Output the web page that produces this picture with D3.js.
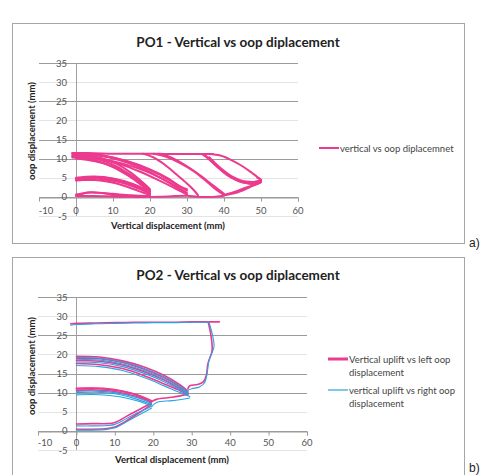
<!DOCTYPE html>
<html>
<head>
<meta charset="utf-8">
<script src="https://cdn.jsdelivr.net/npm/d3@7"></script>
<style>
  html, body { margin: 0; padding: 0; background: #fff; }
  svg { display: block; }
</style>
</head>
<body>
<svg id="chart" width="486" height="475"></svg>
<script>
// ---------------- DATA ----------------
const xTicks = [-10, 0, 10, 20, 30, 40, 50, 60];
const yTicks = [-5, 0, 5, 10, 15, 20, 25, 30, 35];
const yTickLabels = ["-5", "0", "5", "10", "15", "20", "25", "30", "35"];

// PO1 : vertical vs oop displacement (each entry = one traced segment [x, y])
const po1Cycle20 = [
  [[0,0.3],[2,0.9],[4,1.2],[7,1.0],[10,0.6],[14,0.3],[17,0.1],[20,0.0],[15,0.0],[10,0.1],[5,0.2],[0,0.2]],
  [[0,0.6],[3,1.1],[6,1.1],[10,0.8],[15,0.4],[20,0.2]],
  [[0,4.4],[3,4.9],[6,5.0],[9,4.7],[12,4.0],[15,3.0],[18,1.8],[20,0.8]],
  [[20,0.5],[17,1.5],[14,2.6],[11,3.5],[8,4.1],[5,4.4],[2,4.4],[0,4.3]],
  [[0,4.7],[4,5.2],[8,5.0],[12,4.3],[16,2.9],[20,1.2]],
  [[20,1.0],[16,2.5],[12,3.8],[8,4.5],[4,4.8],[0,4.6]],
  [[0,5.0],[5,5.3],[10,4.8],[15,3.5],[19,1.8],[20,1.4]],
  [[-1,10.8],[2,10.6],[6,9.8],[10,8.4],[14,6.2],[17,4.2],[20,1.6]],
  [[20,1.2],[17,3.6],[14,5.6],[10,7.8],[6,9.3],[2,10.1],[-1,10.3]],
  [[-1,11.2],[3,10.9],[7,10.1],[11,8.6],[15,6.2],[18,3.8],[20,2.0]],
  [[0,10.0],[4,9.5],[8,8.6],[12,7.0],[16,4.6],[19,2.2],[20,1.4]]
];
const po1Cycle30 = [
  [[-1,11.4],[4,11.1],[9,10.3],[14,8.9],[19,6.9],[23,4.9],[27,2.8],[30,1.0]],
  [[30,0.6],[26,2.6],[22,4.5],[17,6.7],[12,8.5],[7,9.7],[2,10.4],[-1,10.6]],
  [[0,11.5],[6,11.1],[12,9.8],[17,8.2],[22,6.1],[26,3.9],[30,1.6]],
  [[29,1.4],[25,3.8],[21,5.8],[16,7.7],[10,9.3],[5,10.2],[0,10.7]],
  [[0,11.3],[8,10.6],[14,9.3],[20,7.2],[25,4.8],[28,2.8],[30,2.0]],
  [[20,0.0],[25,0.1],[30,0.3],[33,0.0],[37,0.0],[40,0.3]]
];
const po1Cycle40 = [
  [[-1,11.5],[5,11.4],[10,11.3],[15,11.3],[20,11.3],[25,11.2],[30,11.2],[35,11.2],[37,11.2]],
  [[18,11.3],[21,10.3],[24,8.4],[27,6.0],[30,3.5],[32,1.6],[33,0.4]],
  [[21,11.3],[24,10.6],[28,8.9],[32,6.6],[35,4.3],[38,1.8],[40,0.5]],
  [[23,11.2],[26,10.2],[30,8.0],[34,5.3],[37,3.0],[40,0.8]]
];
const po1Cycle50 = [
  [[36,11.2],[39,10.8],[42,9.6],[45,8.0],[47.5,6.3],[49.5,4.8],[50,4.2],[49,3.4],[46.5,2.6],[44,1.7],[42,1.0],[40,0.5]],
  [[34,11.2],[36,9.8],[38,8.0],[40,6.3],[42,5.0],[44,4.1],[46,3.6],[48,3.5],[50,4.2]],
  [[35,10.8],[37,9.0],[39,7.2],[41,5.7],[43,4.6],[45,3.9],[47,3.4],[49,3.4],[50,3.9]],
  [[36,10.4],[38,8.5],[40,6.8],[42,5.4],[44,4.5],[46,4.0],[48,3.9],[50,4.5],[49,5.0]],
  [[40,0.4],[43,1.0],[46,2.1],[48,3.0],[50,3.8]]
];

// PO2 : vertical uplift vs left oop displacement
const po2Left = [
  [[0,0.4],[4,0.4],[8,0.6],[10,1.0],[12,2.0],[15,3.9],[18,5.8],[19.5,6.9]],
  [[0,1.8],[4,1.9],[8,1.9],[10,2.2],[13,3.8],[16,5.4],[19.5,7.3]],
  [[19.5,7.4],[17,8.8],[13,10.1],[8,10.9],[4,11.1],[0,11.0]],
  [[0,10.6],[5,10.7],[10,10.3],[15,9.1],[19.5,7.6]],
  [[19.5,7.9],[16,9.4],[12,10.4],[7,11.1],[3,11.2],[0,11.1]],
  [[19.5,7.6],[21,8.3],[25,8.8],[29,9.6]],
  [[29,10.4],[27,12.0],[23,14.4],[18,16.6],[12,18.3],[6,19.3],[0,19.5]],
  [[0,19.0],[6,18.9],[12,17.9],[18,16.0],[23,13.8],[27,11.5],[29,10.1]],
  [[29,9.8],[27,11.0],[23,13.2],[18,15.3],[12,17.2],[6,18.2],[0,18.4]],
  [[0,17.6],[6,17.3],[12,16.3],[18,14.3],[23,12.2],[27,10.5],[29,9.5]],
  [[29,11.0],[29.5,11.8],[31.5,12.1],[33,12.8],[33.8,14.5],[34.2,17.5],[35.3,21.0],[35.0,25.0],[34.3,28.4]],
  [[37.2,28.5],[34.3,28.5],[30,28.5],[25,28.4],[20,28.4],[15,28.4],[10,28.3],[5,28.2],[0,28.1],[-1.5,28.0]]
];
// PO2 : vertical uplift vs right oop displacement
const po2Right = [
  [[0,0.2],[4,0.2],[8,0.4],[10,0.8],[13,2.4],[16,4.0],[19.5,5.9]],
  [[0,1.3],[4,1.3],[8,1.4],[10,1.7],[13,3.2],[16,4.8],[19.5,6.4]],
  [[19.5,6.5],[16,7.8],[12,8.8],[8,9.3],[4,9.5],[0,9.4]],
  [[0,10.0],[5,10.1],[10,9.7],[15,8.5],[19.5,6.9]],
  [[19.5,7.2],[15,8.9],[10,10.0],[5,10.4],[0,10.3]],
  [[19.5,6.3],[21,7.5],[25,7.9],[29.5,8.6]],
  [[29,10.2],[27,11.7],[23,14.0],[18,16.2],[12,18.0],[6,19.0],[0,19.2]],
  [[0,18.6],[6,18.5],[12,17.5],[18,15.6],[23,13.4],[27,11.2],[29,9.9]],
  [[29,9.6],[27,10.7],[23,12.8],[18,14.9],[12,16.8],[6,17.8],[0,18.0]],
  [[0,17.1],[6,16.8],[12,15.8],[18,13.8],[23,11.7],[27,10.0],[29.5,9.0]],
  [[29,10.6],[30,11.0],[32,11.5],[33.3,12.5],[34,15.0],[34.5,18.5],[35.8,22.0],[35.3,25.5],[34.5,28.4]],
  [[34.6,28.4],[30,28.4],[25,28.3],[20,28.3],[15,28.2],[10,28.1],[5,28.0],[0,27.8],[-1.5,27.6]]
];

const PINK = "#ec3a8e";
const BLUE = "#2aa2e2";

// ---------------- DRAW ----------------
const svg = d3.select("#chart");
const FONT = "Lato, 'Open Sans', sans-serif";

function drawChart(cfg) {
  const g = svg.append("g");
  // frame
  g.append("rect").attr("x", cfg.frame[0] + 0.5).attr("y", cfg.frame[1] + 0.5)
    .attr("width", cfg.frame[2]).attr("height", cfg.frame[3])
    .attr("fill", "none").attr("stroke", "#a6a6a6").attr("stroke-width", 1);

  const x = d3.scaleLinear().domain([-10, 60]).range(cfg.xRange);
  const y = d3.scaleLinear().domain([-5, 35]).range(cfg.yRange);

  // gridlines
  const strong = new Set([35, 25, 15, 10, 0]);
  g.append("g").selectAll("line").data(yTicks).join("line")
    .attr("x1", x(-10)).attr("x2", x(60))
    .attr("y1", d => Math.round(y(d)) + 0.5).attr("y2", d => Math.round(y(d)) + 0.5)
    .attr("stroke", d => strong.has(d) ? "#9a9a9a" : "#e4e4e4").attr("stroke-width", 1);

  // vertical axis line at x = 0
  g.append("line").attr("x1", Math.round(x(0)) + 0.5).attr("x2", Math.round(x(0)) + 0.5)
    .attr("y1", y(35)).attr("y2", y(-5)).attr("stroke", "#a0a0a0");

  // horizontal axis (crosses at y = 0), tick marks downward
  const xAxis = d3.axisBottom(x).tickValues(xTicks.filter(v => v > -10)).tickSize(4).tickFormat("");
  const ax = g.append("g").attr("transform", `translate(0,${Math.round(y(0)) + 0.5})`).call(xAxis);
  ax.select(".domain").attr("stroke", "#9a9a9a");
  ax.selectAll(".tick line").attr("stroke", "#9a9a9a");

  // x tick labels (below the plot)
  g.append("g").selectAll("text").data(xTicks).join("text")
    .attr("x", d => x(d) + (d === -10 ? 7 : 0)).attr("y", cfg.xLabelY)
    .attr("text-anchor", "middle").attr("font-family", FONT).attr("font-size", 9.5)
    .attr("fill", "#555").text(d => d);

  // y tick labels
  g.append("g").selectAll("text").data(yTicks).join("text")
    .attr("x", x(0) - 9).attr("y", d => y(d) + 3.5)
    .attr("text-anchor", "end").attr("font-family", FONT).attr("font-size", 9.5)
    .attr("fill", "#555").text((d, i) => yTickLabels[i]);

  // series
  const line = d3.line().x(d => x(d[0])).y(d => y(d[1])).curve(d3.curveCatmullRom.alpha(0.5));
  cfg.series.forEach(s => {
    g.append("g").selectAll("path").data(s.segments).join("path")
      .attr("d", line).attr("fill", "none").attr("stroke", s.color)
      .attr("stroke-width", s.width).attr("stroke-linejoin", "round").attr("stroke-linecap", "round");
  });

  // title
  g.append("text").attr("x", cfg.titlePos[0]).attr("y", cfg.titlePos[1])
    .attr("text-anchor", "middle").attr("font-family", FONT).attr("font-weight", "bold")
    .attr("font-size", 13.5).attr("fill", "#222").text(cfg.title);

  // axis titles
  g.append("text").attr("x", cfg.xTitlePos[0]).attr("y", cfg.xTitlePos[1])
    .attr("text-anchor", "middle").attr("font-family", FONT).attr("font-weight", "bold")
    .attr("font-size", 9.5).attr("fill", "#222").text("Vertical displacement (mm)");
  g.append("text").attr("transform", `translate(${cfg.yTitlePos[0]},${cfg.yTitlePos[1]}) rotate(-90)`)
    .attr("text-anchor", "middle").attr("font-family", FONT).attr("font-weight", "bold")
    .attr("font-size", 9.5).attr("fill", "#222").text("oop displacement (mm)");

  // legend
  cfg.legend.forEach(l => {
    g.append("line").attr("x1", l.x).attr("x2", l.x + 20).attr("y1", l.y).attr("y2", l.y)
      .attr("stroke", l.color).attr("stroke-width", l.width);
    l.lines.forEach((t, i) => {
      g.append("text").attr("x", l.x + 21).attr("y", l.y + 3.5 + i * 13)
        .attr("font-family", FONT).attr("font-size", 9.5).attr("fill", "#444").text(t);
    });
  });

  // panel label
  svg.append("text").attr("x", 469).attr("y", cfg.panelY).attr("font-family", "'Liberation Sans', Arial, sans-serif")
    .attr("font-size", 12).attr("fill", "#222").text(cfg.panel);
}

drawChart({
  frame: [12, 23, 452, 220],
  xRange: [39, 298], yRange: [216, 63],
  xLabelY: 214, titlePos: [238, 47], xTitlePos: [168, 229], yTitlePos: [35, 131],
  title: "PO1 - Vertical vs oop diplacement",
  series: [{ segments: [...po1Cycle20, ...po1Cycle30, ...po1Cycle40, ...po1Cycle50], color: PINK, width: 2 }],
  legend: [{ x: 319, y: 148, color: PINK, width: 2, lines: ["vertical vs oop diplacemnet"] }],
  panel: "a)", panelY: 247
});

drawChart({
  frame: [12, 257, 452, 240],
  xRange: [38, 307], yRange: [450, 297],
  xLabelY: 446, titlePos: [238, 280], xTitlePos: [172, 463], yTitlePos: [35, 366],
  title: "PO2 - Vertical vs oop diplacement",
  series: [
    { segments: po2Left, color: PINK, width: 1.6 },
    { segments: po2Right, color: BLUE, width: 1.1 }
  ],
  legend: [
    { x: 328, y: 359, color: PINK, width: 3, lines: ["Vertical uplift vs left oop", "displacement"] },
    { x: 328, y: 390, color: BLUE, width: 1.2, lines: ["vertical uplift vs right oop", "displacement"] }
  ],
  panel: "b)", panelY: 472
});
</script>
</body>
</html>
